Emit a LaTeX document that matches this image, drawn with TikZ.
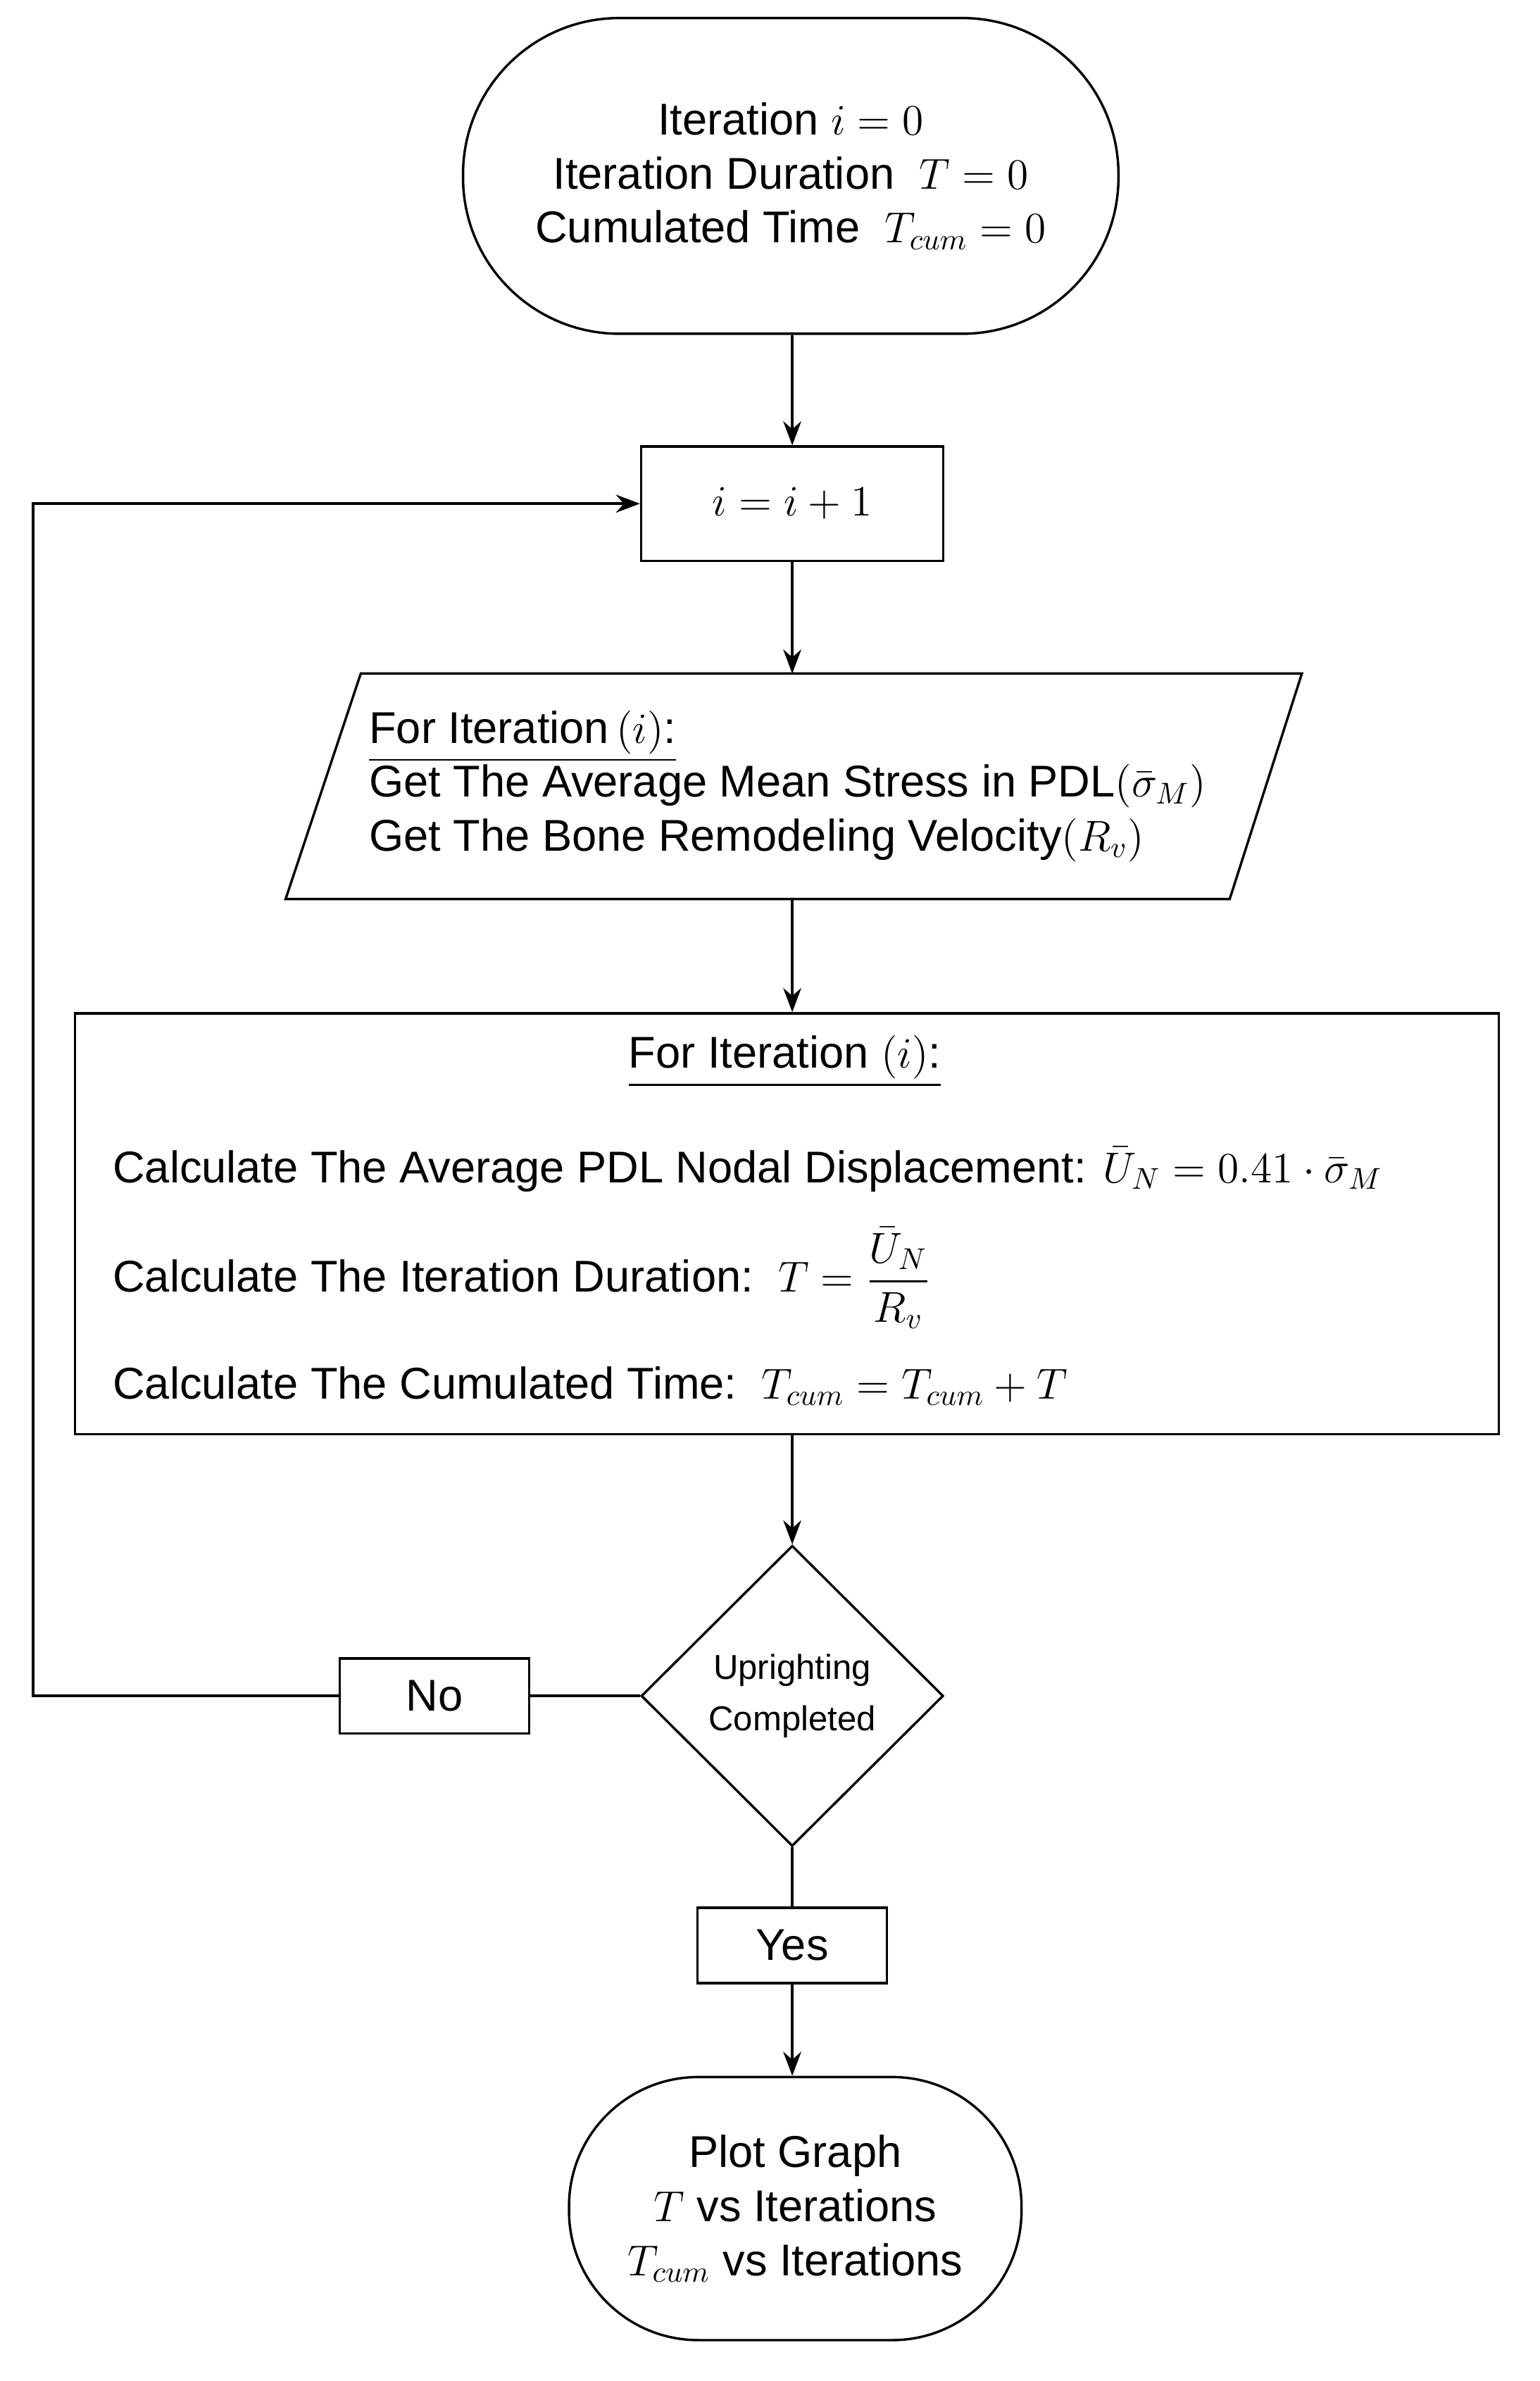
\documentclass[tikz,border=0pt]{standalone}
\usepackage{fontspec}
\setmainfont{Liberation Sans}
\usepackage{amsmath}
\usetikzlibrary{shapes.geometric,arrows.meta}
\begin{document}
\begin{tikzpicture}[x=0.5pt,y=0.5pt,
  every node/.style={font=\fontsize{14.8}{18}\selectfont},
  box/.style={draw,line width=0.8pt,inner sep=0pt},
  term/.style={box,rectangle,rounded corners=45pt,align=center},
  arr/.style={-{Stealth[length=8pt,width=6pt]},line width=0.8pt},
  ln/.style={line width=0.8pt}]
\useasboundingbox (0,0) rectangle (1024,-1583.7);
\node[term,minimum width=218pt,minimum height=105pt,rounded corners=52pt] (start) at (526,-117)
  {Iteration $i=0$\\ Iteration Duration\ \ $T=0$\\ Cumulated Time\ \ $T_{cum}=0$};
\node[box,minimum width=100.5pt,minimum height=38pt] (inc) at (527,-335) {$i=i+1$};
\node[minimum width=313pt,minimum height=75pt,align=left,inner sep=0pt] (par) at (524,-523)
  {\hfill\underline{For Iteration$\,(i)$:}\hfill\hbox{}\\
   Get The Average Mean Stress in PDL$(\bar\sigma_M)$\\
   Get The Bone Remodeling Velocity$(R_v)$};
\draw[ln] (240,-448) -- (866,-448) -- (818,-598) -- (190,-598) -- cycle;
\node[box,minimum width=473.5pt,minimum height=140pt] (calc) at (523.5,-814) {};
\node (ct) at (522,-706) {\underline{For Iteration $(i)$:}};
\node[anchor=west] (c1) at (68,-778) {Calculate The Average PDL Nodal Displacement: $\bar U_N=0.41\cdot\bar\sigma_M$};
\node[anchor=west] (c2) at (68,-850) {Calculate The Iteration Duration:\ \ $T=\dfrac{\bar U_N}{R_v}$};
\node[anchor=west] (c3) at (68,-922) {Calculate The Cumulated Time:\ \ $T_{cum}=T_{cum}+T$};
\node[box,diamond,minimum width=100.5pt,minimum height=100pt,align=center,font=\fontsize{11.5}{17}\selectfont] (dec) at (527,-1128) {Uprighting\\Completed};
\node[box,minimum width=63pt,minimum height=25pt] (no) at (289,-1128) {No};
\node[box,minimum width=63pt,minimum height=25pt] (yes) at (527,-1294) {Yes};
\node[term,minimum width=150.5pt,minimum height=87.5pt,rounded corners=43pt] (end) at (529,-1469)
  {Plot Graph\\ $T$ vs Iterations\\ $T_{cum}$ vs Iterations};
\coordinate (lb) at (22,-1128);
\coordinate (lt) at (22,-335);
\draw[arr] (start.south-|inc) -- (inc);
\draw[arr] (inc) -- (527,-448);
\draw[arr] (527,-598) -- (calc.north-|inc);
\draw[arr] (calc.south-|dec.north) -- (dec.north);
\draw[ln] (dec.west) -- (no.east);
\draw[arr] (no.west) -- (lb) -- (lt) -- (inc.west);
\draw[ln] (dec.south) -- (yes.north);
\draw[arr] (yes.south) -- (yes.south|-end.north);
\end{tikzpicture}
\end{document}
